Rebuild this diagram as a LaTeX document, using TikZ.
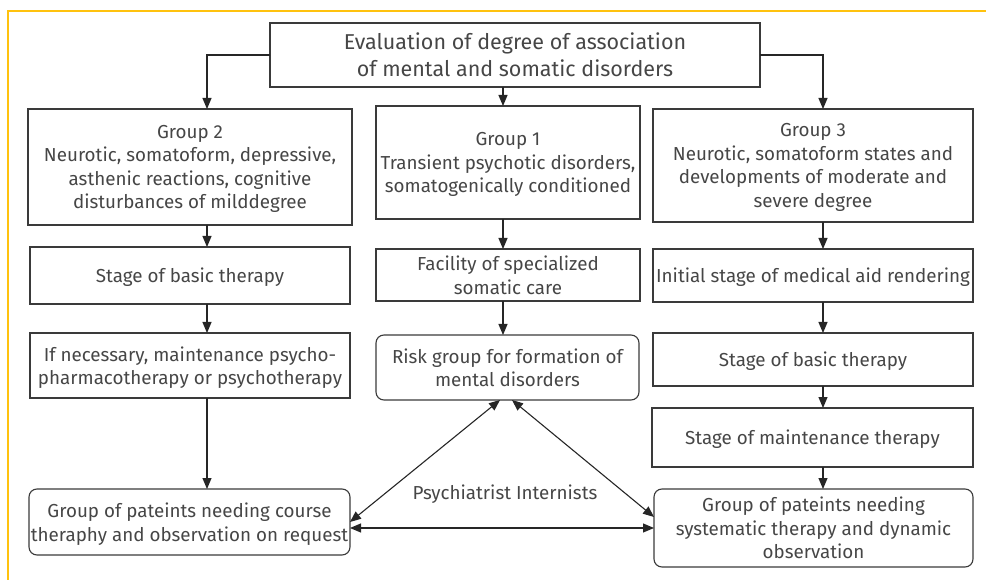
\documentclass[tikz,border=0pt]{standalone}
\usepackage{fontspec}
\setmainfont{Fira Sans}
\usetikzlibrary{arrows.meta}
\definecolor{framey}{HTML}{FFC20E}
\definecolor{linegray}{HTML}{3A3A3A}
\definecolor{textgray}{HTML}{464646}
\begin{document}
\begin{tikzpicture}[x=1pt,y=-1pt,
  box/.style={draw=linegray,line width=1.1pt,inner sep=0pt,outer sep=0pt,align=center,text=textgray,text depth=0pt,font=\fontsize{18.8}{23.5}\selectfont},
  rbox/.style={box,rounded corners=8pt},
  arr/.style={draw=black!85,line width=1.1pt,-{Triangle[length=11pt,width=9pt]}},
  darr/.style={draw=black!85,line width=1.1pt,{Triangle[length=11pt,width=9pt]}-{Triangle[length=11pt,width=9pt]}},
  frame/.style={draw=framey,line width=2pt}]
\useasboundingbox (0,0) rectangle (986,580);
\draw[frame] (8,581) -- (8,11) -- (987,11);

\node[box,minimum width=490pt,minimum height=64pt,font=\fontsize{21.5}{27}\selectfont] (top) at (515,55) {Evaluation of degree of association\\of mental and somatic disorders};

\node[box,minimum width=324pt,minimum height=116pt] (g2) at (190,167) {Group 2\\Neurotic, somatoform, depressive,\\asthenic reactions, cognitive\\disturbances of milddegree};
\node[box,minimum width=264pt,minimum height=113pt] (g1) at (508,162.5) {Group 1\\Transient psychotic disorders,\\somatogenically conditioned};
\node[box,minimum width=320pt,minimum height=113pt] (g3) at (813,165.5) {Group 3\\Neurotic, somatoform states and\\developments of moderate and\\severe degree};

\node[box,minimum width=320pt,minimum height=57pt] (l1) at (190,275.5) {Stage of basic therapy};
\node[box,minimum width=320pt,minimum height=65pt] (l2) at (190,365.5) {If necessary, maintenance psycho-\\pharmacotherapy or psychotherapy};
\node[rbox,minimum width=321pt,minimum height=66pt] (l3) at (189.5,522) {Group of pateints needing course\\theraphy and observation on request};

\node[box,minimum width=264pt,minimum height=52pt] (m1) at (508,275) {Facility of specialized\\somatic care};
\node[rbox,minimum width=263pt,minimum height=65pt] (m2) at (507.5,367.5) {Risk group for formation of\\mental disorders};

\node[box,minimum width=320pt,minimum height=53pt] (r1) at (813,275.5) {Initial stage of medical aid rendering};
\node[box,minimum width=320pt,minimum height=53pt] (r2) at (813,359.5) {Stage of basic therapy};
\node[box,minimum width=321pt,minimum height=59pt] (r3) at (812.5,437.5) {Stage of maintenance therapy};
\node[rbox,minimum width=319pt,minimum height=78pt] (r4) at (813.5,528) {Group of pateints needing\\systematic therapy and dynamic\\observation};

\node[text=textgray,font=\fontsize{18.8}{23.5}\selectfont,inner sep=0pt] (lab) at (505,494) {Psychiatrist Internists};

% top arrows
\draw[arr] (top.west) -| ([xshift=17pt]g2.north);
\draw[arr] ([xshift=-12pt]top.south) -- ([xshift=-5pt]g1.north);
\draw[arr] (top.east) -| ([xshift=10pt]g3.north);

% left column
\draw[arr] ([xshift=17pt]g2.south) -- ([xshift=17pt]l1.north);
\draw[arr] ([xshift=17pt]l1.south) -- ([xshift=17pt]l2.north);
\draw[arr] ([xshift=17pt]l2.south) -- ([xshift=17.5pt]l3.north);

% middle column
\draw[arr] ([xshift=-5pt]g1.south) -- ([xshift=-5pt]m1.north);
\draw[arr] ([xshift=-5pt]m1.south) -- ([xshift=-4.5pt]m2.north);

% right column
\draw[arr] ([xshift=10pt]g3.south) -- ([xshift=10pt]r1.north);
\draw[arr] ([xshift=10pt]r1.south) -- ([xshift=10pt]r2.north);
\draw[arr] ([xshift=10pt]r2.south) -- ([xshift=10.5pt]r3.north);
\draw[arr] ([xshift=10.5pt]r3.south) -- ([xshift=9.5pt]r4.north);

% double arrows
\draw[darr] ([yshift=-6pt]l3.east) -- (r4.west);
\draw[darr] ([xshift=-7.5pt]m2.south) -- (l3.east);
\draw[darr] ([xshift=4.5pt]m2.south) -- ([yshift=11pt]r4.west);
\end{tikzpicture}
\end{document}
